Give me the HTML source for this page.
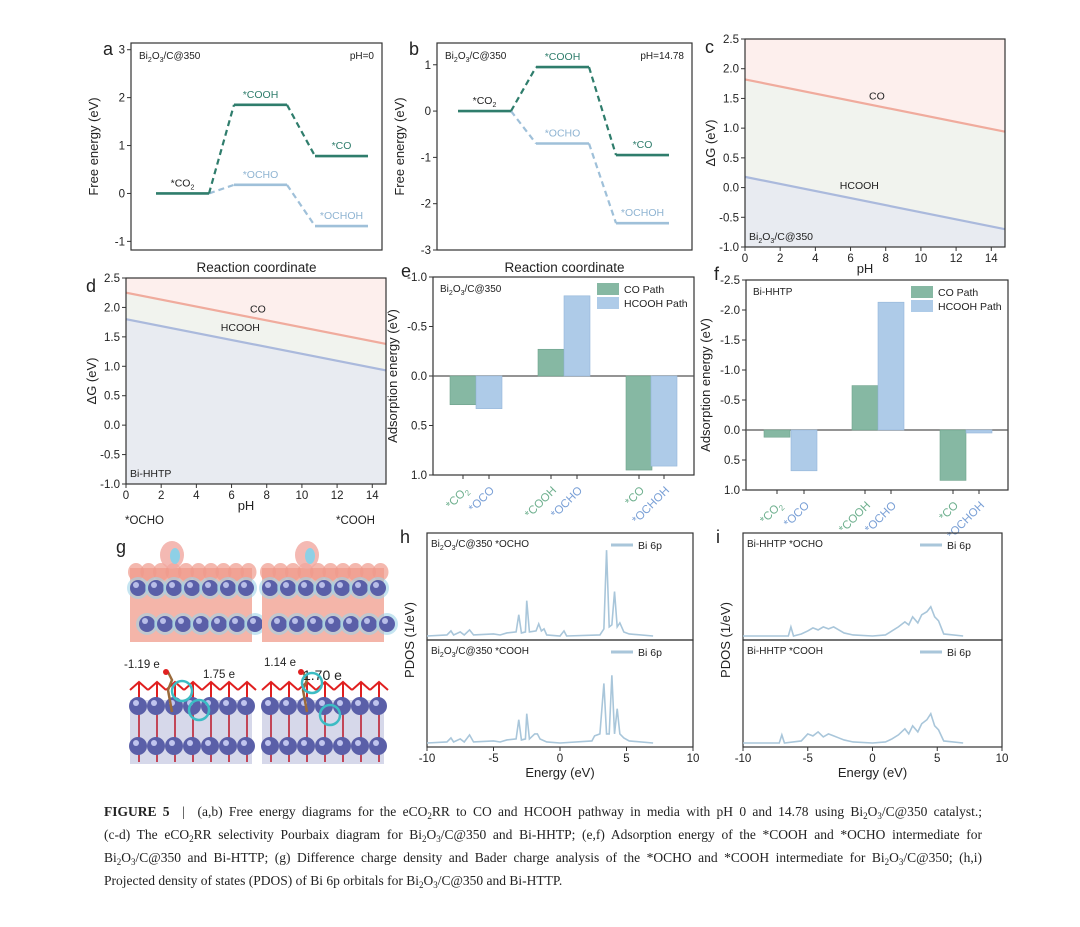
<!DOCTYPE html>
<html><head><meta charset="utf-8"><style>
body{margin:0;background:#fff;width:1080px;height:927px;overflow:hidden;font-family:"Liberation Sans",sans-serif}
#cap{position:absolute;left:104px;top:800px;width:878px;font-family:"Liberation Serif",serif;font-size:13.5px;color:#222}
#cap div{height:23px;line-height:23px;text-align:justify;text-align-last:justify;white-space:nowrap}
#cap sub{font-size:9px;line-height:0;vertical-align:-3px}
</style></head><body>
<svg id="fig" width="1080" height="927" style="position:absolute;left:0;top:0" xmlns="http://www.w3.org/2000/svg"></svg>
<div id="cap">
<div><b>FIGURE 5</b> &nbsp;|&nbsp; (a,b) Free energy diagrams for the eCO<sub>2</sub>RR to CO and HCOOH pathway in media with pH 0 and 14.78 using Bi<sub>2</sub>O<sub>3</sub>/C@350 catalyst.;</div>
<div>(c-d) The eCO<sub>2</sub>RR selectivity Pourbaix diagram for Bi<sub>2</sub>O<sub>3</sub>/C@350 and Bi-HHTP; (e,f) Adsorption energy of the *COOH and *OCHO intermediate for</div>
<div>Bi<sub>2</sub>O<sub>3</sub>/C@350 and Bi-HTTP; (g) Difference charge density and Bader charge analysis of the *OCHO and *COOH intermediate for Bi<sub>2</sub>O<sub>3</sub>/C@350; (h,i)</div>
<div style="text-align-last:left">Projected density of states (PDOS) of Bi 6p orbitals for Bi<sub>2</sub>O<sub>3</sub>/C@350 and Bi-HTTP.</div>
</div>
<script>
// ---- data ----
const aCOValues=[0,1.85,0.78];
const aHCOOHValues=[0,0.18,-0.68];
const bCOValues=[0,0.95,-0.95];
const bHCOOHValues=[0,-0.70,-2.42];
const aTicks=[3,2,1,0,-1];
const bTicks=[1,0,-1,-2,-3];
const cCOLine=[1.82,0.94];
const cHCOOHLine=[0.18,-0.70];
const dCOLine=[2.25,1.38];
const dHCOOHLine=[1.80,0.93];
const pHRange=[0,14.78];
const gTicks=[2.5,2.0,1.5,1.0,0.5,0.0,-0.5,-1.0];
const pHTicks=[0,2,4,6,8,10,12,14];
const adsCategories=["*CO2","*OCO","*COOH","*OCHO","*CO","*OCHOH"];
const eValues=[0.29,0.33,-0.27,-0.81,0.95,0.91];
const fValues=[0.12,0.68,-0.74,-2.13,0.84,0.05];
const eTicks=[-1.0,-0.5,0.0,0.5,1.0];
const fTicks=[-2.5,-2.0,-1.5,-1.0,-0.5,0.0,0.5,1.0];
const energyTicks=[-10,-5,0,5,10];
const hOCHO_E=[-10,-8.5,-8.2,-8,-7.5,-7.2,-6.8,-6.5,-5,-4.5,-4,-3.3,-3.1,-2.9,-2.6,-2.5,-2.3,-1.8,-1.6,-1.4,-1.2,-1,0,0.3,0.5,3,3.3,3.5,3.7,3.9,4.1,4.3,4.5,4.8,5.2,7];
const hOCHO_V=[0.01,0.02,0.06,0.02,0.05,0.02,0.07,0.02,0.03,0.02,0.04,0.05,0.22,0.04,0.05,0.36,0.05,0.06,0.13,0.06,0.08,0.02,0.01,0.06,0.01,0.02,0.08,0.86,0.1,0.12,0.45,0.1,0.14,0.05,0.03,0.01];
const hCOOH_E=[-10,-8.5,-8.2,-8,-7.5,-7.2,-6.8,-6.5,-5,-4.5,-4,-3.3,-3.1,-2.9,-2.6,-2.5,-2.3,-1.9,-1.7,-1.5,-1,0,2.4,2.6,3,3.3,3.5,3.7,3.9,4.1,4.3,4.5,4.8,5.2,7];
const hCOOH_V=[0.01,0.02,0.06,0.02,0.05,0.02,0.09,0.02,0.03,0.02,0.04,0.05,0.24,0.04,0.05,0.3,0.05,0.1,0.1,0.05,0.02,0.01,0.03,0.08,0.1,0.6,0.1,0.1,0.68,0.1,0.35,0.1,0.06,0.03,0.01];
const iOCHO_E=[-10,-6.5,-6.3,-6.1,-5.5,-5,-4.6,-4.2,-3.8,-3.4,-3,-2.6,-2.2,-1.5,0,1,1.5,2,2.5,2.8,3.1,3.5,3.8,4.2,4.5,4.8,5.1,5.5,7];
const iOCHO_V=[0.01,0.01,0.1,0.01,0.03,0.06,0.09,0.07,0.1,0.08,0.1,0.07,0.04,0.02,0.01,0.02,0.06,0.1,0.15,0.12,0.2,0.14,0.22,0.25,0.3,0.2,0.16,0.03,0.01];
const iCOOH_E=[-10,-7.2,-7,-6.8,-5.5,-5,-4.6,-4.2,-3.8,-3.4,-3,-2.6,-2.2,-1.5,0,1,1.5,2,2.5,2.8,3.1,3.5,3.8,4.2,4.5,4.8,5.1,5.5,7];
const iCOOH_V=[0.01,0.01,0.09,0.01,0.03,0.1,0.08,0.12,0.07,0.1,0.08,0.06,0.04,0.02,0.01,0.02,0.05,0.09,0.15,0.1,0.18,0.12,0.2,0.24,0.3,0.18,0.14,0.03,0.01];

const S=document.getElementById('fig');const NS='http://www.w3.org/2000/svg';
function el(t,a,p){const e=document.createElementNS(NS,t);for(const k in a)e.setAttribute(k,a[k]);(p||S).appendChild(e);return e;}
function tx(x,y,s,o){o=o||{};const e=el('text',{x:x,y:y,'font-size':o.fs||11,fill:o.fill||'#222','text-anchor':o.a||'start','font-family':'Liberation Sans, sans-serif'});if(o.rot)e.setAttribute('transform','rotate('+o.rot+' '+x+' '+y+')');e.innerHTML=s;return e;}
const GREEN='#2f7d6c',LBLUE='#9fc0d9';
function lin(d0,d1,r0,r1){return v=>r0+(v-d0)*(r1-r0)/(d1-d0);}
function box(x0,y0,x1,y1,name){const r=el('rect',{x:x0,y:y0,width:x1-x0,height:y1-y0,fill:'none',stroke:'#333','stroke-width':1.2});}
function yTicks(ticks,y,x0,fmt){ticks.forEach(t=>{const yy=y(t);el('line',{x1:x0,x2:x0-4,y1:yy,y2:yy,stroke:'#333'});const l=tx(x0-6,yy+4,fmt?fmt(t):t,{a:'end',fs:11.5});});}
function xTicks(ticks,x,y0){ticks.forEach(t=>{const xx=x(t);el('line',{x1:xx,x2:xx,y1:y0,y2:y0+4,stroke:'#333'});const l=tx(xx,y0+15,t,{a:'middle',fs:11.5});});}
function panelLabel(x,y,s){const l=tx(x,y,s,{fs:18});}

// ---- energy diagrams ----
function energy(x0,y0,x1,y1,dom,ticks,co,hc,stepX,w,lab,ph,label,nameP){
  box(x0,y0,x1,y1,nameP+'-plot-frame');
  const y=lin(dom[0],dom[1],y0,y1);
  yTicks(ticks,y,x0);
  panelLabel(x0-28,y0+12,label);
  const t1=tx(x0+8,y0+16,'Bi<tspan font-size="7" dy="3">2</tspan><tspan dy="-3">O</tspan><tspan font-size="7" dy="3">3</tspan><tspan dy="-3">/C@350</tspan>',{fs:10});
  const t2=tx(x1-8,y0+16,ph,{fs:10,a:'end'});
  const yl=tx(x0-33,(y0+y1)/2,'Free energy (eV)',{fs:13,a:'middle',rot:-90});
  const xl=tx((x0+x1)/2,y1+22,'Reaction coordinate',{fs:13.5,a:'middle'});
  const names=[['*CO<tspan font-size="7" dy="3">2</tspan>','*COOH','*CO'],['','*OCHO','*OCHOH']];
  [[hc,LBLUE,1],[co,GREEN,0]].forEach(([vals,col,k])=>{
    vals.forEach((v,i)=>{const xs=stepX[i];
      if(!(k===1&&i===0)){const l=el('line',{x1:xs,x2:xs+w,y1:y(v),y2:y(v),stroke:col,'stroke-width':2.6});
        const t=tx(xs+w/2,y(v)-7,names[k][i],{fs:10.5,a:'middle',fill:k?'#8fb4d2':(i===0?'#222':GREEN)});}
      if(i>0){const c=el('line',{x1:stepX[i-1]+w,y1:y(vals[i-1]),x2:xs,y2:y(v),stroke:col,'stroke-width':2.2,'stroke-dasharray':'6,4'});}
    });
  });
}
energy(131,43,382,250,[3.14,-1.18],aTicks,aCOValues,aHCOOHValues,[156,234,315],53,'','pH=0','a','panel-a');
energy(437,43,692,250,[1.47,-3.0],bTicks,bCOValues,bHCOOHValues,[458,536,616],53,'','pH=14.78','b','panel-b');

// ---- Pourbaix ----
function pourbaix(x0,y0,x1,y1,co,hc,lab,label,xlabY,nameP){
  const y=lin(2.5,-1.0,y0,y1),x=lin(0,14.78,x0,x1);
  const X0=x(pHRange[0]),X1=x(pHRange[1]);
  el('polygon',{points:`${X0},${y0} ${X1},${y0} ${X1},${y(co[1])} ${X0},${y(co[0])}`,fill:'#fdefed'});
  el('polygon',{points:`${X0},${y(co[0])} ${X1},${y(co[1])} ${X1},${y(hc[1])} ${X0},${y(hc[0])}`,fill:'#f1f3ee'});
  el('polygon',{points:`${X0},${y(hc[0])} ${X1},${y(hc[1])} ${X1},${y1} ${X0},${y1}`,fill:'#e8ebf1'});
  const l1=el('line',{x1:X0,y1:y(co[0]),x2:X1,y2:y(co[1]),stroke:'#f0ab9d','stroke-width':2.2});
  const l2=el('line',{x1:X0,y1:y(hc[0]),x2:X1,y2:y(hc[1]),stroke:'#aab9dc','stroke-width':2.2});
  box(x0,y0,x1,y1,nameP+'-plot-frame');
  yTicks(gTicks,y,x0,t=>t.toFixed(1));xTicks(pHTicks,x,y1);
  panelLabel(x0-40,y0+14,label);
  const a=tx(x(7.5),y((co[0]+co[1])/2)-6,'CO',{fs:10.5,a:'middle'});
  const b=tx(x(6.5),y((hc[0]+hc[1])/2)-14,'HCOOH',{fs:10.5,a:'middle'});
  const s=tx(x0+4,y1-7,lab,{fs:10.5});
  const p=tx((x0+x1)/2-10,xlabY,'pH',{fs:13,a:'middle'});
  const g=tx(x0-30,(y0+y1)/2,'ΔG (eV)',{fs:13,a:'middle',rot:-90});
}
pourbaix(745,39,1005,247,cCOLine,cHCOOHLine,'Bi<tspan font-size="7" dy="3">2</tspan><tspan dy="-3">O</tspan><tspan font-size="7" dy="3">3</tspan><tspan dy="-3">/C@350</tspan>','c',273,'panel-c');
pourbaix(126,278,386,484,dCOLine,dHCOOHLine,'Bi-HHTP','d',510,'panel-d');

// ---- adsorption bars ----
function bars(x0,y0,x1,y1,dom,ticks,vals,bx,lab,label,nameP){
  const y=lin(dom[0],dom[1],y0,y1);
  box(x0,y0,x1,y1,nameP+'-plot-frame');
  yTicks(ticks,y,x0,t=>t.toFixed(1));
  el('line',{x1:x0,x2:x1,y1:y(0),y2:y(0),stroke:'#555','stroke-width':1.2});
  const bw=26;
  vals.forEach((v,i)=>{const isCO=i%2===0;const r=el('rect',{x:bx[i],y:Math.min(y(0),y(v)),width:bw,height:Math.abs(y(v)-y(0)),fill:isCO?'#86b8a3':'#aecbe8',stroke:isCO?'#6fa28c':'#94b6d9','stroke-width':0.6});
    
    const cx=bx[i]+bw/2;const t=tx(cx+6,y1+16,adsCategories[i].replace('2','<tspan font-size="8" dy="3">2</tspan>'),{fs:11.5,a:'end',fill:isCO?'#6fb08f':'#7aa0d6',rot:-45});
    el('line',{x1:cx,x2:cx,y1:y1,y2:y1+4,stroke:'#333'});});
  panelLabel(x0-32,y0+0,label);
  const s=tx(x0+7,y0+15,lab,{fs:10});
  const yl=tx(x0-36,(y0+y1)/2,'Adsorption energy (eV)',{fs:13,a:'middle',rot:-90});
  const lx=x1-97;
  const s1=el('rect',{x:lx,y:y0+6,width:22,height:12,fill:'#86b8a3'});
  const s2=el('rect',{x:lx,y:y0+20,width:22,height:12,fill:'#aecbe8'});
  const l1=tx(lx+27,y0+16,'CO Path',{fs:10.5});
  const l2=tx(lx+27,y0+30,'HCOOH Path',{fs:10.5});
}
bars(433,277,694,475,[-1.0,1.0],eTicks,eValues,[450,476,538,564,626,651],'Bi<tspan font-size="7" dy="3">2</tspan><tspan dy="-3">O</tspan><tspan font-size="7" dy="3">3</tspan><tspan dy="-3">/C@350</tspan>','e','panel-e');
bars(746,280,1008,490,[-2.5,1.0],fTicks,fValues,[764,791,852,878,940,966],'Bi-HHTP','f','panel-f');

// ---- panel g (structures) ----
panelLabel(116,553,'g');
function structure(ox,top){
  const g=el('g',{});
  el('rect',{x:ox,y:568,width:122,height:74,fill:'#f4b5a9'},g);
  for(let i=0;i<10;i++){el('ellipse',{cx:ox+6+i*12.5,cy:572,rx:8,ry:9,fill:'#ef9a8c',opacity:0.7},g);}
  for(let r=0;r<2;r++)for(let i=0;i<7;i++){const cx=ox+8+i*18+(r?9:0),cy=588+r*36;
    el('circle',{cx:cx,cy:cy,r:11,fill:'#9fd3e8',opacity:0.6},g);el('circle',{cx:cx,cy:cy,r:8,fill:'#5a5fa8'},g);el('circle',{cx:cx-2,cy:cy-3,r:3,fill:'#b8bde8'},g);}
  el('ellipse',{cx:ox+top,cy:555,rx:12,ry:14,fill:'#f1a8a0',opacity:0.8},g);
  el('ellipse',{cx:ox+top+3,cy:556,rx:5,ry:8,fill:'#8ed0e6'},g);
  const g2=el('g',{});
  for(let i=0;i<7;i++){el('path',{d:`M${ox+i*18} 690 l9 -8 l9 8 M${ox+i*18+9} 682 v80`,stroke:'#e02020','stroke-width':2,fill:'none'},g2);}
  el('rect',{x:ox,y:700,width:122,height:64,fill:'#8a8fc4',opacity:0.35},g2);
  for(let r=0;r<2;r++)for(let i=0;i<7;i++){const cx=ox+8+i*18,cy=706+r*40;el('circle',{cx:cx,cy:cy,r:9,fill:'#5a5fa8'},g2);el('circle',{cx:cx-2,cy:cy-3,r:3,fill:'#c0c4ee'},g2);}
  el('path',{d:`M${ox+top} 712 l-4 -22 l4 -10 l-4 -8`,stroke:'#9b6a3a','stroke-width':2.5,fill:'none'},g2);
  el('circle',{cx:ox+top-6,cy:672,r:3,fill:'#e02020'},g2);
}
structure(130,42);structure(262,45);
[['*OCHO',125,524],['*COOH',336,524],['-1.19 e',124,668],['1.75 e',203,678],['1.14 e',264,666],['1.70 e',303,680]].forEach(([s,x,y],i)=>{const t=tx(x,y,s,{fs:i==5?14:11.5});});
[[182,691],[199,710],[312,683],[330,715]].forEach(([cx,cy])=>{const c=el('circle',{cx:cx,cy:cy,r:10,fill:'none',stroke:'#3cbcc4','stroke-width':2.5});});

// ---- PDOS ----
function pdos(x0,x1,label,sub,sets,nameP){
  const y0=533,ym=640,y1=747;const x=lin(-10,10,x0,x1);
  panelLabel(x0-27,y0+10,label);
  [[y0,ym],[ym,y1]].forEach(([a,b],k)=>{
    box(x0,a,x1,b,nameP+'-subplot-frame');
    const yv=lin(0,1,b-3,a+3);
    const [E,V]=sets[k];const pts=E.map((e,i)=>x(e)+','+yv(V[i])).join(' ');
    const p=el('polyline',{points:pts,fill:'none',stroke:'#a9c6da','stroke-width':1.6});
    const t=tx(x0+4,a+14,sub[k],{fs:10});
    el('line',{x1:x1-82,x2:x1-60,y1:a+12,y2:a+12,stroke:'#a9c6da','stroke-width':3});
    const l=tx(x1-55,a+16,'Bi 6p',{fs:10.5});
  });
  xTicks(energyTicks,x,y1);
  const xl=tx((x0+x1)/2,y1+30,'Energy (eV)',{fs:13,a:'middle'});
  const yl=tx(x0-13,ym,'PDOS (1/eV)',{fs:13,a:'middle',rot:-90});
}
const B='Bi<tspan font-size="7" dy="3">2</tspan><tspan dy="-3">O</tspan><tspan font-size="7" dy="3">3</tspan><tspan dy="-3">/C@350 </tspan>';
pdos(427,693,'h',[B+'*OCHO',B+'*COOH'],[[hOCHO_E,hOCHO_V],[hCOOH_E,hCOOH_V]],'panel-h');
pdos(743,1002,'i',['Bi-HHTP *OCHO','Bi-HHTP *COOH'],[[iOCHO_E,iOCHO_V],[iCOOH_E,iCOOH_V]],'panel-i');
</script>
</body></html>
